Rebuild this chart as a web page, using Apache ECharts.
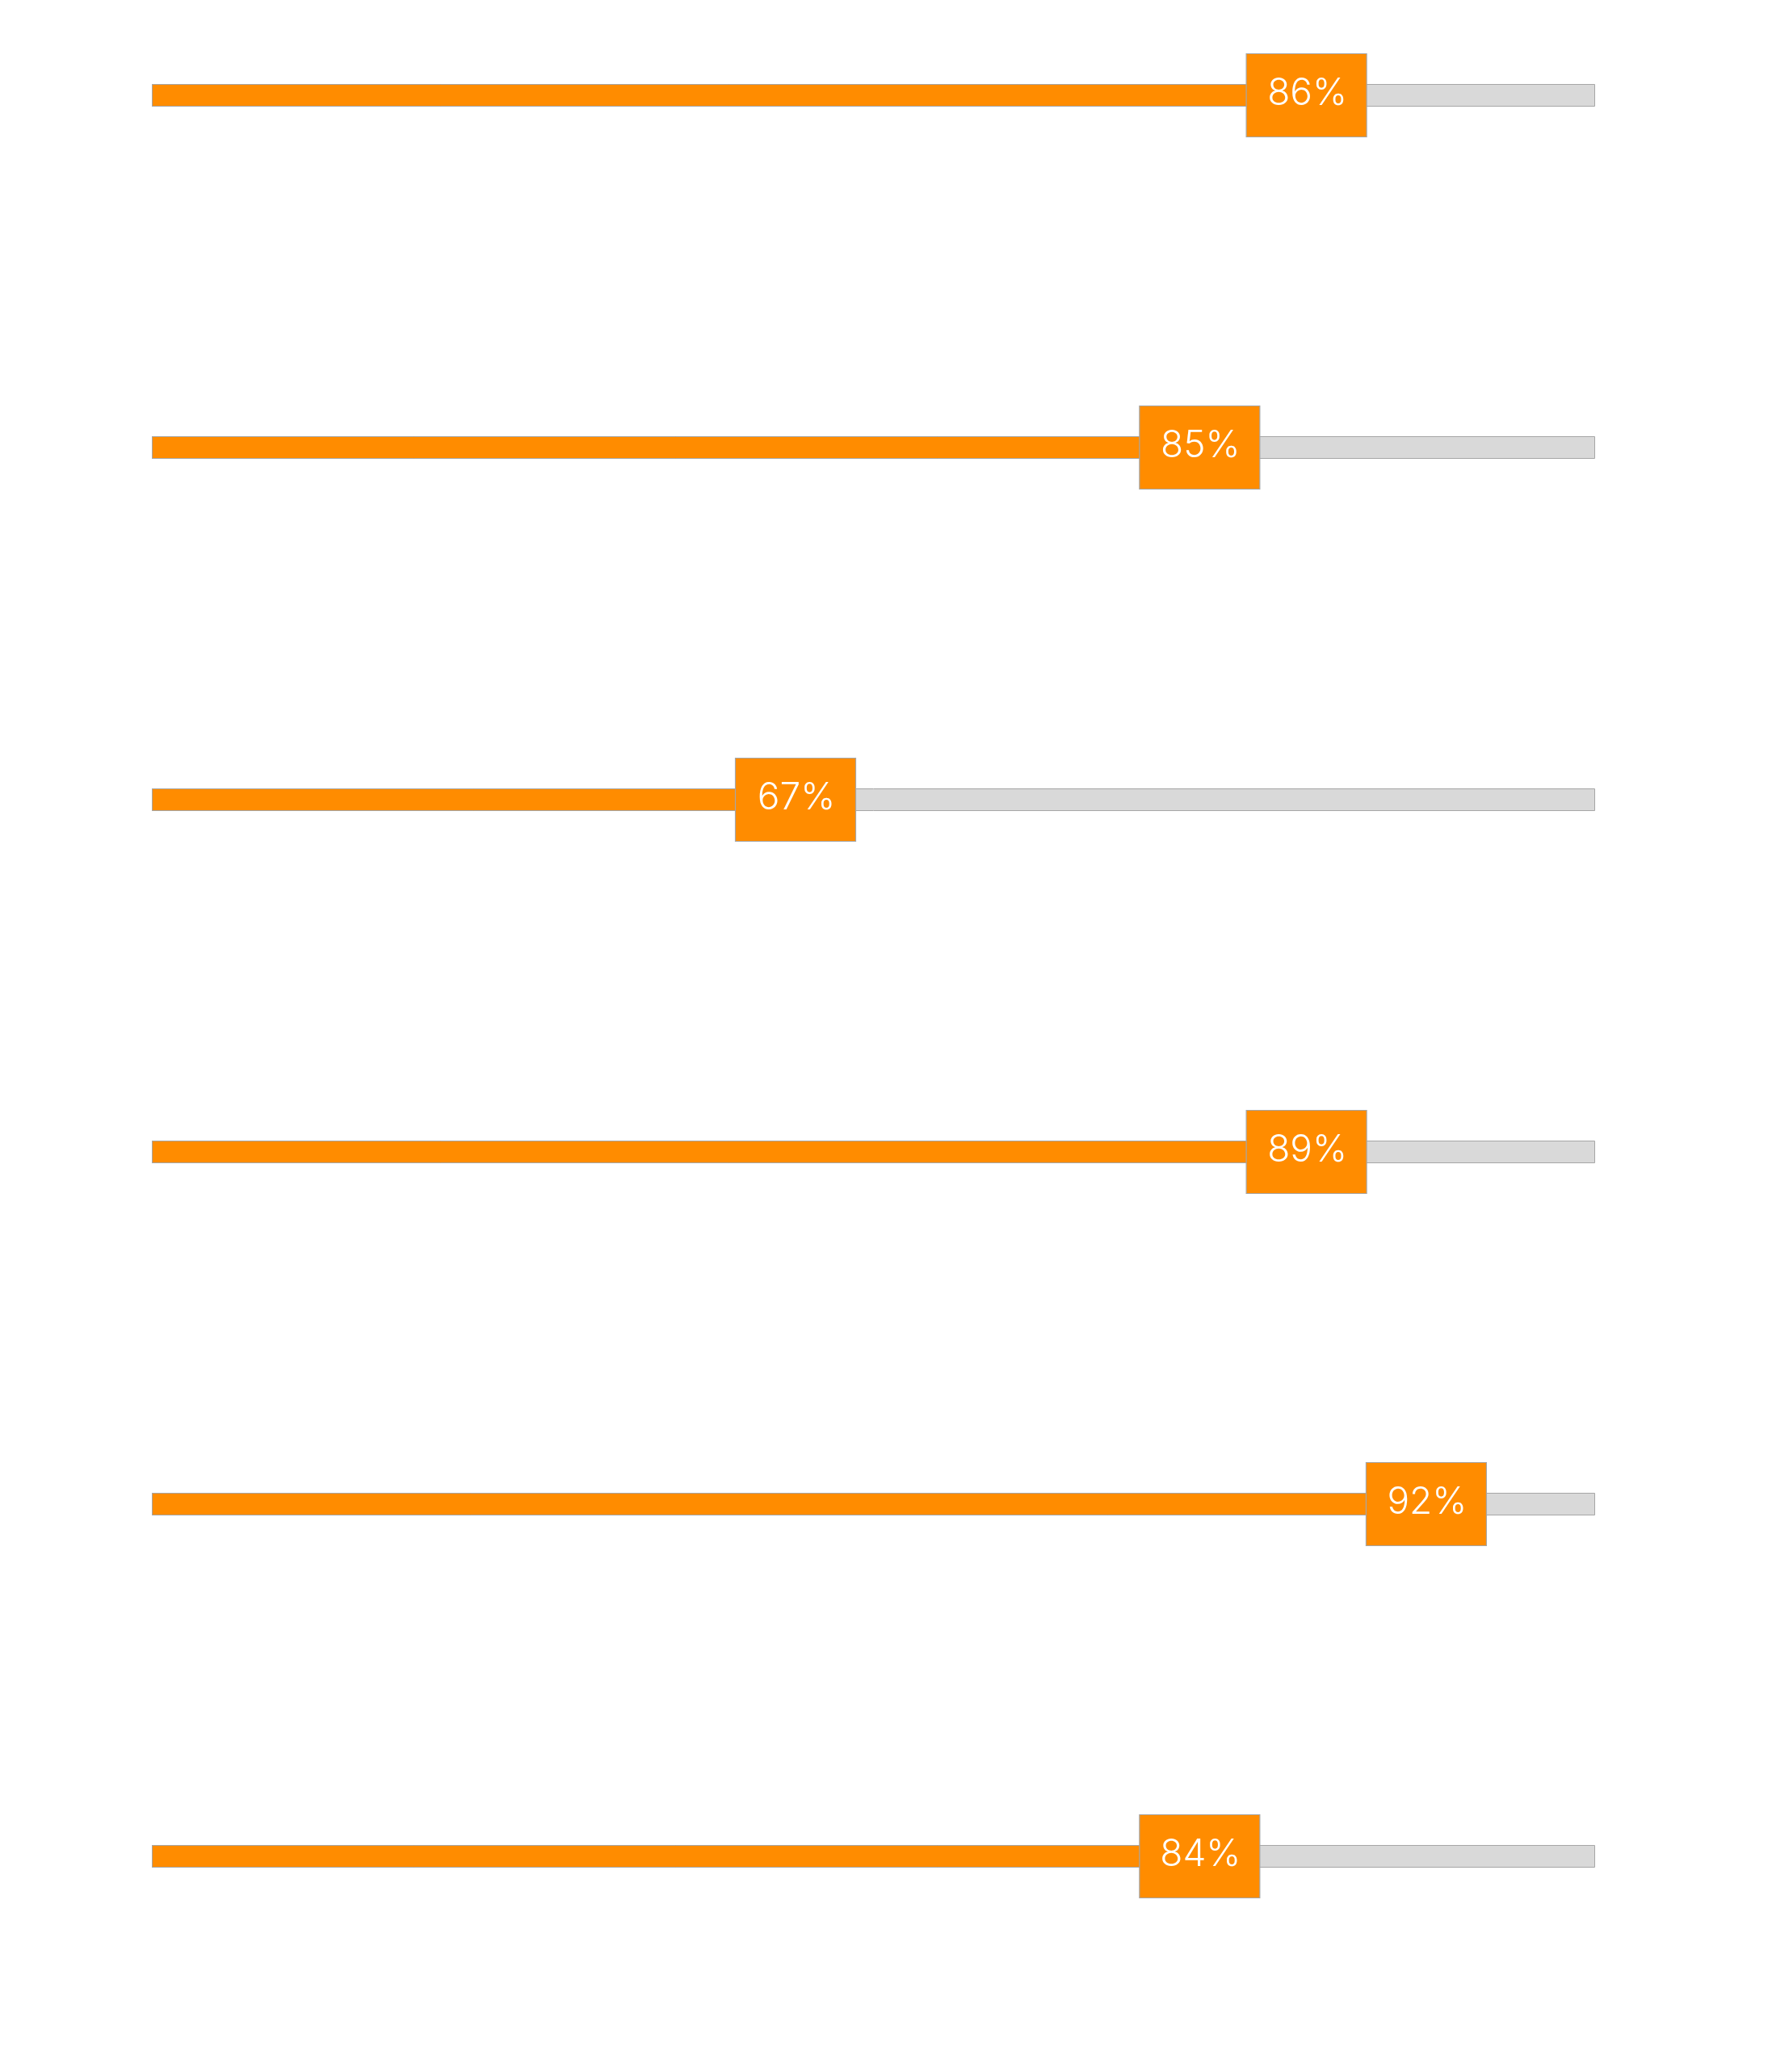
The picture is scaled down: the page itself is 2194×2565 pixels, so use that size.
<!DOCTYPE html>
<html>
<head>
<meta charset="utf-8">
<script src="https://cdn.jsdelivr.net/npm/echarts@6/dist/echarts.min.js"></script>
<style>
html,body{margin:0;padding:0;background:#ffffff;}
#chart{width:2194px;height:2565px;}
</style>
</head>
<body>
<div id="chart"></div>
<script>
// Rows (top to bottom)
const categories = ['Row 1', 'Row 2', 'Row 3', 'Row 4', 'Row 5', 'Row 6'];
// Percent values shown in the labels
const values = [86, 85, 67, 89, 92, 84];
// Where the label box sits along the 0-100 track
const markerPos = [80.0, 72.6, 44.6, 80.0, 88.3, 72.6];
// Full track length
const trackMax = [100, 100, 100, 100, 100, 100];

const chart = echarts.init(document.getElementById('chart'), null, {renderer: 'canvas'});

const option = {
  backgroundColor: '#ffffff',
  animation: false,
  grid: {
    left: 188,
    right: 219,
    top: 118,
    bottom: 267,
    containLabel: false,
    outerBoundsMode: 'none'
  },
  xAxis: {
    type: 'value',
    min: 0,
    max: 100,
    show: false
  },
  yAxis: {
    type: 'category',
    data: categories,
    inverse: true,
    boundaryGap: false,
    show: false
  },
  series: [
    {
      type: 'bar',
      data: trackMax,
      barWidth: 28,
      barGap: '-100%',
      itemStyle: {color: '#D9D9D9', borderColor: '#A6A6A6', borderWidth: 1},
      silent: true,
      z: 1
    },
    {
      type: 'bar',
      data: markerPos,
      barWidth: 28,
      barGap: '-100%',
      itemStyle: {color: '#FF8C00', borderColor: '#A6A6A6', borderWidth: 1},
      silent: true,
      z: 2
    },
    {
      type: 'scatter',
      data: markerPos.map((p, i) => [p, categories[i]]),
      symbol: 'rect',
      symbolSize: [149, 103],
      itemStyle: {color: '#FF8C00', borderColor: '#A6A6A6', borderWidth: 1, opacity: 1},
      label: {
        show: true,
        position: 'inside',
        formatter: (p) => values[p.dataIndex] + '%',
        color: '#ffffff',
        fontFamily: 'Inter',
        fontWeight: 300,
        fontSize: 46,
        offset: [1, -2]
      },
      z: 3
    }
  ]
};
chart.setOption(option);
</script>
</body>
</html>
